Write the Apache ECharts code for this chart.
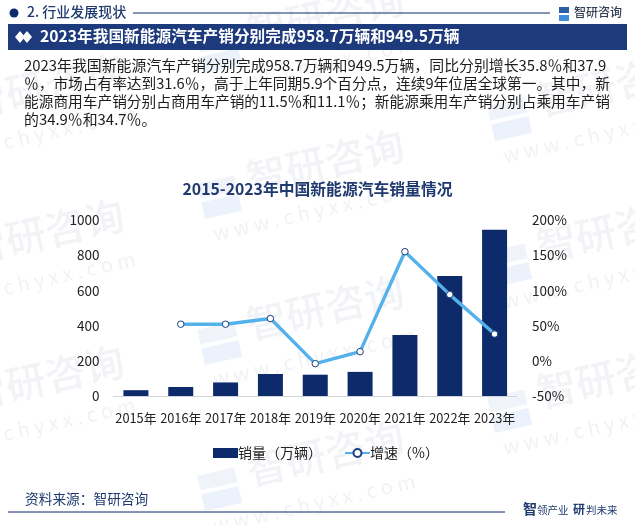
<!DOCTYPE html>
<html>
<head>
    <meta charset="utf-8">
    <title>2015-2023年中国新能源汽车销量情况</title>
    <style>
        html, body { margin: 0; padding: 0; background: #fff; }
        #chart1 { width: 635px; height: 525px; }
    </style>
    <script src="https://cdn.jsdelivr.net/npm/echarts@6/dist/echarts.min.js"></script>
</head>
<body>
<div id="chart1"></div>
<script type="text/javascript">
    // values
    var years = ['2015年', '2016年', '2017年', '2018年', '2019年', '2020年', '2021年', '2022年', '2023年'];
    var sales = [33, 51, 77, 125, 121, 137, 347, 682, 945];
    var growth = [null, 52, 52, 60, -4, 13, 155, 94, 38];
    var leftTicks = [0, 200, 400, 600, 800, 1000];
    var rightTicks = [-50, 0, 50, 100, 150, 200];
    var bodyLines = [
        '2023年我国新能源汽车产销分别完成958.7万辆和949.5万辆，同比分别增长35.8％和37.9',
        '％，市场占有率达到31.6％，高于上年同期5.9个百分点，连续9年位居全球第一。其中，新',
        '能源商用车产销分别占商用车产销的11.5％和11.1％；新能源乘用车产销分别占乘用车产销',
        '的34.9％和34.7％。'
    ];

    var FONT = '"Noto Sans CJK SC", "Noto Sans", sans-serif';
    var NAVY = '#0d2a6b';
    var BAND = '#1d3a7c';
    var SKY = '#55b1ea';
    var BODY_SIZES = [14.9, 14.7, 14.7, 14.9];

    // 水印
    var marks = [
        [-75, 143], [-75, 289], [-75, 435],
        [205, 73], [205, 219], [205, 365], [205, 511],
        [495, 141], [495, 287], [495, 433]
    ];
    var graphics = [];
    marks.forEach(function (m) {
        graphics.push({
            type: 'group', x: m[0], y: m[1], rotation: 0.22, silent: true,
            children: [
                { type: 'text', x: 50, y: -50, style: { text: '智研咨询', font: '500 40px ' + FONT, fill: '#f2f3f6' } },
                { type: 'rect', shape: { x: 0, y: -36, width: 38, height: 15 }, style: { fill: '#f0f3f9' } },
                { type: 'rect', shape: { x: 0, y: -17, width: 38, height: 17 }, style: { fill: '#ebf2fb' } },
                { type: 'text', x: 5, y: 6, style: { text: 'w w w . c h y x x . c o m', font: '20px ' + FONT, fill: '#f1f2f5' } }
            ]
        });
    });

    // 页眉
    graphics.push(
        { type: 'circle', shape: { cx: 14, cy: 13, r: 4.5 }, style: { fill: NAVY } },
        { type: 'text', x: 27, y: 5, style: { text: '2. 行业发展现状', font: '500 14px ' + FONT, fill: '#1f3a6e' } },
        { type: 'line', shape: { x1: 133, y1: 13, x2: 550, y2: 13 }, style: { stroke: NAVY, lineWidth: 1 } },
        { type: 'rect', shape: { x: 559, y: 7, width: 10, height: 6 }, style: { fill: '#2a5fa8' } },
        { type: 'rect', shape: { x: 559, y: 15, width: 10, height: 6 }, style: { fill: '#3f8fd8' } },
        { type: 'text', x: 574, y: 6, style: { text: '智研咨询', font: '500 12px ' + FONT, fill: '#333f55' } },
        { type: 'rect', shape: { x: 8, y: 24, width: 619, height: 26 }, style: { fill: BAND } },
        { type: 'polygon', shape: { points: [[15, 37], [20, 31], [25, 37], [20, 43]] }, style: { fill: '#fff' } },
        { type: 'polygon', shape: { points: [[22, 37], [27, 31], [32, 37], [27, 43]] }, style: { fill: '#fff' } },
        { type: 'text', x: 40, y: 28, style: { text: '2023年我国新能源汽车产销分别完成958.7万辆和949.5万辆', font: '700 15.7px ' + FONT, fill: '#fff' } }
    );
    bodyLines.forEach(function (line, i) {
        graphics.push({ type: 'text', x: 24, y: 58 + i * 18, style: { text: line, font: BODY_SIZES[i] + 'px ' + FONT, fill: '#1c1c1c' } });
    });

    // 页脚
    graphics.push(
        { type: 'text', x: 25, y: 492, style: { text: '资料来源：智研咨询', font: '13.7px ' + FONT, fill: '#1f3a6e' } },
        { type: 'line', shape: { x1: 8, y1: 512, x2: 505, y2: 512 }, style: { stroke: NAVY, lineWidth: 1 } },
        { type: 'text', x: 523, y: 502, style: { text: '智', font: '700 14px ' + FONT, fill: '#1f3a6e' } },
        { type: 'text', x: 537, y: 505, style: { text: '领产业', font: '10.5px ' + FONT, fill: '#1f3a6e' } },
        { type: 'text', x: 573, y: 503, style: { text: '研', font: '700 12px ' + FONT, fill: '#1f3a6e' } },
        { type: 'text', x: 586, y: 505, style: { text: '判未来', font: '10.5px ' + FONT, fill: '#1f3a6e' } }
    );

    var chart = echarts.init(document.getElementById('chart1'));
    chart.setOption({
        backgroundColor: '#fff',
        animation: false,
        textStyle: { fontFamily: FONT },
        graphic: graphics,
        title: {
            text: '2015-2023年中国新能源汽车销量情况',
            left: 'center',
            top: 176,
            textStyle: { fontSize: 15.8, fontWeight: 'bold', color: '#1f3a6e', fontFamily: FONT }
        },
        legend: {
            top: 441,
            left: 208,
            itemGap: 22,
            itemWidth: 25,
            itemHeight: 10,
            textStyle: { fontSize: 14, color: '#222', fontFamily: FONT, padding: [0, 0, 0, -5] },
            data: [
                { name: '销量（万辆）', icon: 'rect' },
                { name: '增速（%）' }
            ]
        },
        grid: { left: 113.5, right: 118, top: 220, height: 176 },
        xAxis: {
            type: 'category',
            data: years,
            axisTick: { show: false },
            axisLine: { lineStyle: { color: '#cfd4de' } },
            axisLabel: { color: '#222', fontSize: 12.8, margin: 16, interval: 0 }
        },
        yAxis: [
            {
                type: 'value', min: 0, max: 1000, interval: 200,
                axisLine: { show: false }, axisTick: { show: false }, splitLine: { show: false },
                axisLabel: { color: '#222', fontSize: 13.5, margin: 14, customValues: leftTicks,
                    formatter: function (v) { return String(v); } }
            },
            {
                type: 'value', min: -50, max: 200, interval: 50,
                axisLine: { show: false }, axisTick: { show: false }, splitLine: { show: false },
                axisLabel: { color: '#222', fontSize: 13.5, margin: 15, formatter: '{value}%',
                    customValues: rightTicks }
            }
        ],
        series: [
            {
                name: '销量（万辆）',
                type: 'bar',
                data: sales,
                barWidth: 25,
                itemStyle: { color: NAVY }
            },
            {
                name: '增速（%）',
                type: 'line',
                yAxisIndex: 1,
                data: growth,
                symbol: 'circle',
                symbolSize: 6.5,
                showAllSymbol: true,
                connectNulls: false,
                lineStyle: { color: SKY, width: 3.4 },
                itemStyle: { color: '#fff', borderColor: '#1d3f80', borderWidth: 1 }
            }
        ]
    });
</script>
</body>
</html>
